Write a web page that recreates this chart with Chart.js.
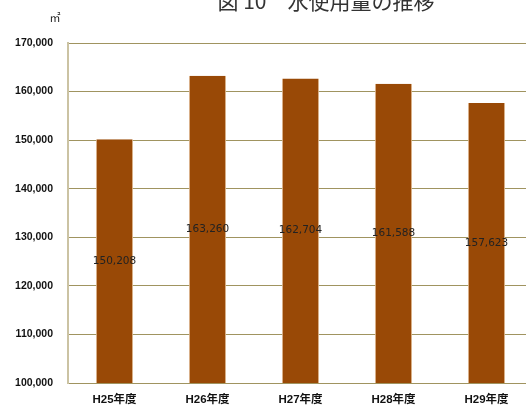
<!DOCTYPE html>
<html>
<head>
<meta charset="utf-8">
<script src="https://cdn.jsdelivr.net/npm/chart.js@4"></script>
<style>
  html, body { margin: 0; padding: 0; background: #fff; overflow: hidden; }
  #wrap { position: absolute; left: 0; top: 0; width: 540px; height: 406px; }
</style>
</head>
<body>
<div id="wrap"><canvas id="waterChart"></canvas></div>
<script>
// water usage by fiscal year (m²)
const years = ['H25年度', 'H26年度', 'H27年度', 'H28年度', 'H29年度'];
const usage = [150208, 163260, 162704, 161588, 157623];
const titleText = '図 10　水使用量の推移';
const unitText = '㎡';

const jpFont = "'Liberation Sans', 'Noto Sans CJK JP', sans-serif";

// value labels in the middle of each bar, plus title and unit
const extras = {
    id: 'extras',
    afterDatasetsDraw(chart) {
        const ctx = chart.ctx;
        const meta = chart.getDatasetMeta(0);
        const bottom = chart.scales.y.getPixelForValue(chart.scales.y.min);
        ctx.save();
        ctx.font = "10.5px 'DejaVu Sans', sans-serif";
        ctx.fillStyle = '#222';
        ctx.textAlign = 'center';
        ctx.textBaseline = 'middle';
        meta.data.forEach((bar, i) => {
            const mid = (bar.y + bottom) / 2;
            ctx.fillText(usage[i].toLocaleString('en-US'), bar.x, mid);
        });

        ctx.font = "21px 'Noto Sans CJK JP', sans-serif";
        ctx.fillStyle = '#333';
        ctx.textBaseline = 'alphabetic';
        ctx.fillText(titleText, 326, 9);

        ctx.font = "11px 'Noto Sans CJK JP', sans-serif";
        ctx.fillStyle = '#222';
        ctx.fillText(unitText, 55, 22);
        ctx.restore();
    }
};

new Chart(document.getElementById('waterChart'), {
    type: 'bar',
    data: {
        labels: years,
        datasets: [{
            data: usage,
            backgroundColor: '#994906',
            borderColor: '#dcb48c',
            borderWidth: { left: 1, right: 1, top: 0, bottom: 0 },
            barPercentage: 0.4,
            categoryPercentage: 1.0
        }]
    },
    options: {
        responsive: true,
        maintainAspectRatio: false,
        animation: false,
        layout: { padding: { top: 43, right: 7, left: 0, bottom: 0 } },
        plugins: {
            legend: { display: false },
            tooltip: { enabled: false }
        },
        scales: {
            x: {
                grid: { display: false, drawTicks: false },
                border: { color: '#a09460', width: 1 },
                ticks: {
                    color: '#111',
                    padding: 10,
                    font: { family: jpFont, size: 11.5, weight: 'bold' }
                },
                afterFit(axis) { axis.height = 23; }
            },
            y: {
                min: 100000,
                max: 170000,
                grid: { color: '#a09460', lineWidth: 1, drawTicks: false },
                border: { color: '#cbc3a3', width: 2 },
                ticks: {
                    stepSize: 10000,
                    color: '#111',
                    padding: 15,
                    font: { family: jpFont, size: 10.5, weight: 'bold' },
                    callback: v => v.toLocaleString('en-US')
                },
                afterFit(axis) { axis.width = 68; }
            }
        }
    },
    plugins: [extras]
});
</script>
</body>
</html>
